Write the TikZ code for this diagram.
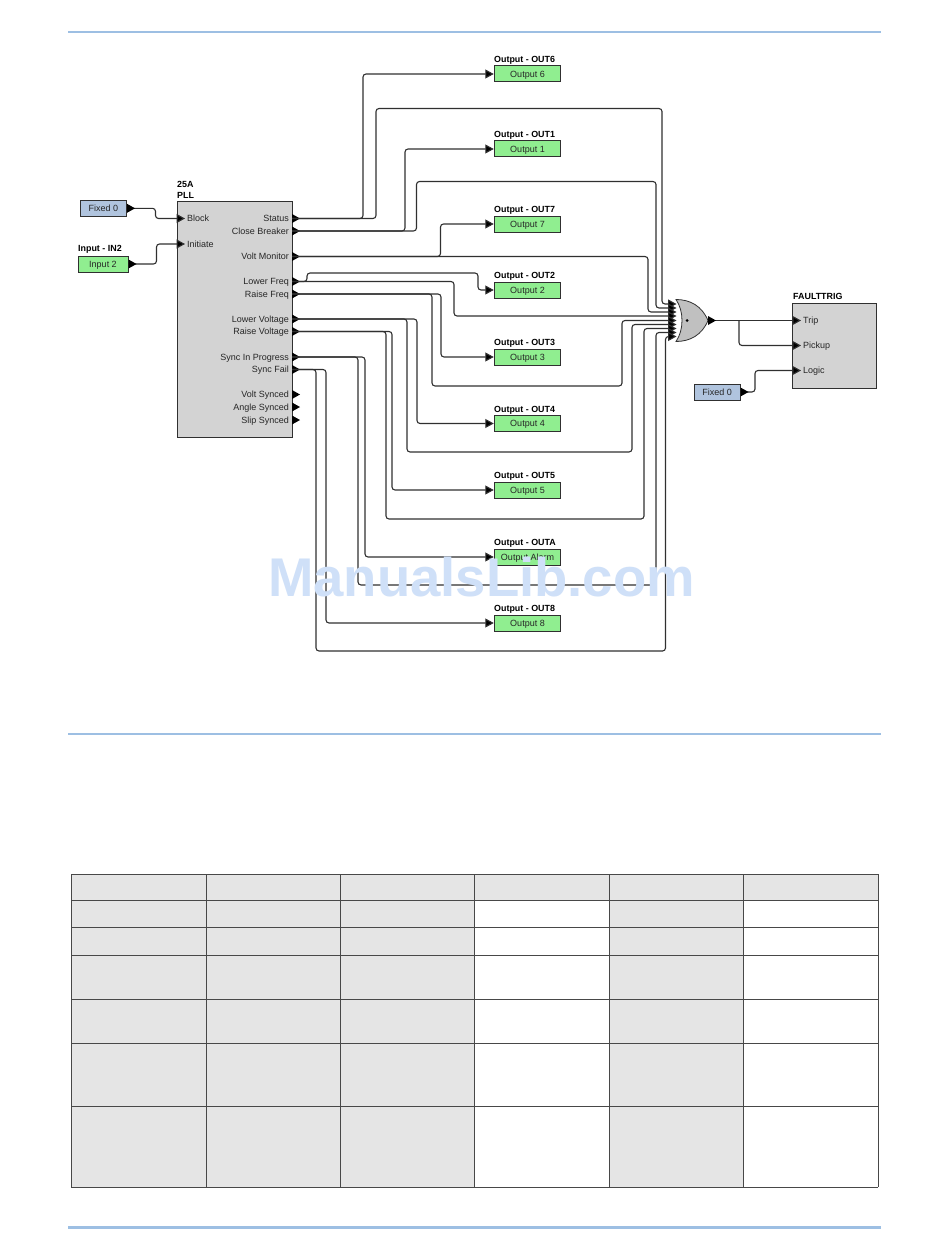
\documentclass[tikz,border=0pt]{standalone}
\usepackage{fontspec}
\setmainfont{Liberation Sans}
\usetikzlibrary{arrows.meta,calc}
\definecolor{rulecol}{HTML}{9DBFE3}
\definecolor{cellgrey}{HTML}{E5E5E5}
\definecolor{outgreen}{HTML}{90EE90}
\definecolor{fixblue}{HTML}{B0C4DE}
\definecolor{blockgrey}{HTML}{D3D3D3}
\definecolor{gategrey}{HTML}{C0C0C0}
\definecolor{wirecol}{HTML}{303030}
\definecolor{markcol}{HTML}{CFE0F8}
\definecolor{tablecol}{HTML}{484848}
\tikzset{
  txt/.style={font=\fontsize{9}{10}\selectfont,inner sep=0pt,text=black!85,text height=6.5pt,text depth=0pt},
  ttl/.style={font=\fontsize{8.9}{10}\bfseries\selectfont,inner sep=0pt,anchor=west,text height=6.5pt,text depth=0pt},
  srcbox/.style={draw=wirecol,line width=1pt,inner sep=0pt,font=\fontsize{9}{10}\selectfont,text=black!85,text height=6.5pt,text depth=0pt},
  outbox/.style={srcbox,fill=outgreen,minimum width=66.5pt,minimum height=16pt},
  fixbox/.style={srcbox,fill=fixblue,minimum height=16pt},
  block/.style={draw=wirecol,line width=1pt,fill=blockgrey,inner sep=0pt},
  wire/.style={draw=wirecol,line width=1.1pt,rounded corners=3pt,-{Triangle[length=8.5pt,width=9pt,fill=black]}},
  tap/.style={draw=wirecol,line width=1.1pt,rounded corners=3pt},
  tiptri/.style={fill=black},
  hrule/.style={draw=rulecol},
  grid/.style={draw=tablecol,line width=1pt}
}
\newcommand{\porttip}[1]{\fill[tiptri] ($(#1)+(0,-4.5)$) -- ($(#1)+(8,0)$) -- ($(#1)+(0,4.5)$) -- cycle;}
\begin{document}
\begin{tikzpicture}[x=1pt,y=-1pt]
\useasboundingbox[fill=white] (0,0) rectangle (950,1260);
% page rules
\draw[hrule,line width=2.2pt] (68,32) -- (881,32);
\draw[hrule,line width=1.4pt] (68,734) -- (881,734);
\draw[hrule,line width=2.4pt] (68,1227.5) -- (881,1227.5);
% table
\fill[cellgrey] (71,874) rectangle (878,900.5);
\fill[cellgrey] (71,900.5) rectangle (474.5,1187);
\fill[cellgrey] (609,900.5) rectangle (743.5,1187);
\foreach \yy in {874,900.5,927.5,955,999,1043,1106,1187} \draw[grid] (71,\yy) -- (878,\yy);
\foreach \xx in {71,206,340,474.5,609,743.5,878} \draw[grid] (\xx,874) -- (\xx,1187);
% blocks
\node[block,minimum width=115pt,minimum height=236pt] (pll) at (234.5,319.5) {};
\node[block,minimum width=83.5pt,minimum height=85pt] (ft) at (834.7,345.5) {};
\node[ttl] (pllA) at (177,184.5) {25A};
\node[ttl] (pllB) at (177,195.5) {PLL};
\node[ttl] (ftt) at (793,296.5) {FAULTTRIG};
% sources
\node[fixbox,minimum width=46pt] (fx1) at (103.5,208.3) {Fixed 0};
\node[ttl] (in2t) at (78,248.5) {Input - IN2};
\node[outbox,minimum width=50pt] (in2) at (103,264) {Input 2};
\node[fixbox,minimum width=46pt] (fx2) at (717,392) {Fixed 0};
% outputs
\foreach \nm/\yy/\tt/\lab in {o6/74/OUT6/Output 6,o1/149/OUT1/Output 1,o7/224/OUT7/Output 7,o2/290/OUT2/Output 2,o3/357/OUT3/Output 3,o4/423.5/OUT4/Output 4,o5/490/OUT5/Output 5,oa/557/OUTA/Output Alarm,o8/623/OUT8/Output 8}{
  \node[outbox] (\nm) at (527.5,\yy) {\lab};
  \node[ttl] (\nm t) at (494,\yy-14.7) {Output - \tt};
}
% port coordinates and labels of 25A
\foreach \nm/\yy/\lab in {st/218.5/Status,cb/231/Close Breaker,vm/256.5/Volt Monitor,lf/281.5/Lower Freq,rf/294/Raise Freq,lv/319/Lower Voltage,rv/331.5/Raise Voltage,si/357/Sync In Progress,sf/369.5/Sync Fail,vs/394.5/Volt Synced,as/407/Angle Synced,ss/420/Slip Synced}{
  \coordinate (\nm) at (292,\yy);
  \node[txt,anchor=east] (\nm l) at (289,\yy) {\lab};
  \porttip{\nm}
}
\coordinate (blk) at (185,218.5);
\coordinate (ini) at (185,244);
\node[txt,anchor=west] (blkl) at (187,218.5) {Block};
\node[txt,anchor=west] (inil) at (187,244) {Initiate};
\coordinate (trp) at (801,320.5);
\coordinate (pku) at (801,345.5);
\coordinate (lgc) at (801,370.5);
\node[txt,anchor=west] (trpl) at (803,320.5) {Trip};
\node[txt,anchor=west] (pkul) at (803,345.5) {Pickup};
\node[txt,anchor=west] (lgcl) at (803,370.5) {Logic};
% gate pins
\foreach \i/\yy in {1/304,2/308,3/312,4/316,5/320.5,6/324.5,7/328.5,8/332.5,9/336.5}{
  \coordinate (g\i) at (676.5,\yy);
}
\coordinate (gout) at (708,320.5);
\coordinate (gbr) at (739,320.5);
% connectors
\draw[wire] (fx1.east) -| (155.5,218.5) -- (blk);
\draw[wire] (in2.east) -| (156.5,244) -- (ini);
\porttip{fx1.east}
\porttip{in2.east}
\draw[wire] (st) -| (363,74) -- (o6.west);
\draw[wire] (st) -| (376,108.5) -| (662,304) -- (g1);
\draw[wire] (cb) -| (405,149) -- (o1.west);
\draw[wire] (cb) -| (416.5,181.5) -| (656,308) -- (g2);
\draw[wire] (vm) -| (440.5,224) -- (o7.west);
\draw[wire] (vm) -| (648,312) -- (g3);
\draw[wire] (lf) -- (307,281.5) |- (478,273) |- (o2.west);
\draw[wire] (lf) -| (454,316) -- (g4);
\draw[wire] (rf) -| (441,357) -- (o3.west);
\draw[wire] (rf) -| (432,386) -| (622,320.5) -- (g5);
\draw[wire] (lv) -| (417,423.5) -- (o4.west);
\draw[wire] (lv) -| (407,452) -| (632,324.5) -- (g6);
\draw[wire] (rv) -| (392,490) -- (o5.west);
\draw[wire] (rv) -| (386,519) -| (644,328.5) -- (g7);
\draw[wire] (si) -| (365,557) -- (oa.west);
\draw[wire] (si) -| (358,585) -| (656,332.5) -- (g8);
\draw[wire] (sf) -| (326,623) -- (o8.west);
\draw[wire] (sf) -| (316,651) -| (665.5,336.5) -- (g9);
% gate
\draw[draw=wirecol,line width=0.8pt,fill=gategrey] (676,299.5) .. controls (690,299.5) and (702,306) .. (708,320.5) .. controls (702,335) and (690,341.5) .. (676,341.5) .. controls (684,330) and (684,311) .. (676,299.5) -- cycle;
\node[circle,fill=black,inner sep=0pt,minimum size=3pt] (gdot) at (687,320.5) {};
\draw[tap] (gout) -- (gbr);
\draw[wire] (gbr) -- (trp);
\draw[wire] (gbr) |- (pku);
\draw[wire] (fx2.east) -- (755,392) |- (lgc);
\porttip{gout}
\porttip{fx2.east}
% watermark
\node[inner sep=0pt,text=markcol,font=\fontsize{54.5}{60}\bfseries\selectfont] (mark) at (481.5,577) {ManualsLib.com};
\end{tikzpicture}
\end{document}
